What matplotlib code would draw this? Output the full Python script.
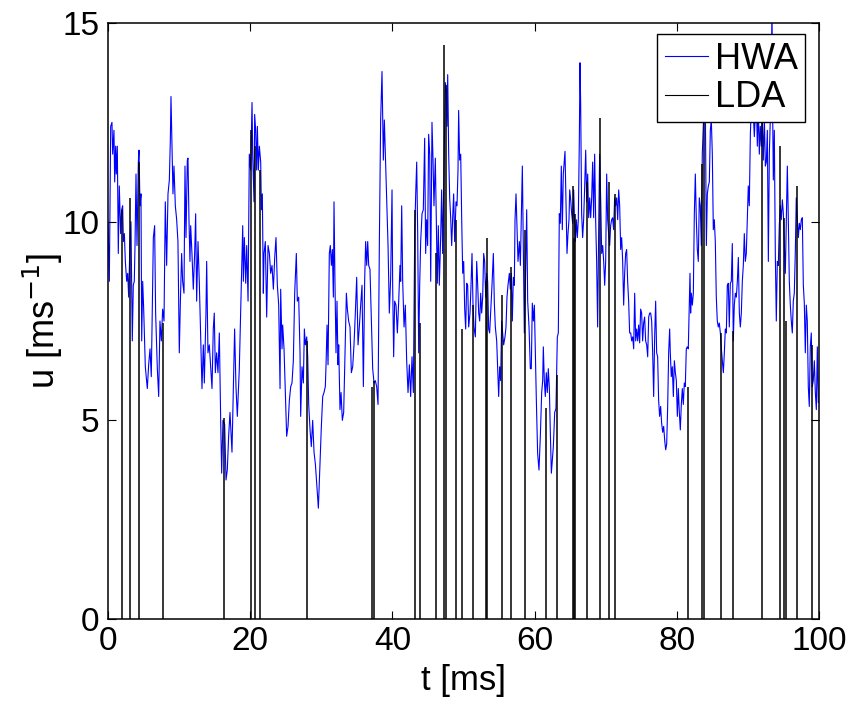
import numpy as np
import matplotlib
matplotlib.use("Agg")
import matplotlib.pyplot as plt
from matplotlib.lines import Line2D

plt.rcParams['font.family'] = ['Liberation Sans', 'DejaVu Sans']

## HWA trace (t in ms, u in m/s)
hwa_t = [
    0.0, 0.19, 0.38, 0.56, 0.66, 0.84, 0.94, 1.08, 1.17, 1.31, 1.45, 1.59, 1.78, 1.92, 2.06, 2.16,
    2.30, 2.44, 2.63, 2.77, 2.91, 3.09, 3.23, 3.42, 3.56, 3.70, 3.80, 3.94, 4.08, 4.27, 4.36, 4.50,
    4.64, 4.74, 4.88, 5.02, 5.25, 5.53, 5.72, 5.91, 6.09, 6.38, 6.56, 6.70, 6.94, 7.13, 7.31, 7.50,
    7.69, 7.88, 8.06, 8.25, 8.44, 8.63, 8.77, 8.86, 9.00, 9.14, 9.28, 9.47, 9.66, 9.84, 10.03, 10.17,
    10.36, 10.50, 10.69, 10.83, 10.97, 11.16, 11.25, 11.39, 11.53, 11.63, 11.81, 12.00, 12.19, 12.33,
    12.47, 12.66, 12.84, 13.03, 13.22, 13.41, 13.55, 13.78, 13.88, 14.06, 14.25, 14.44, 14.63, 14.81,
    14.95, 15.10, 15.28, 15.47, 15.66, 15.85, 15.99, 16.17, 16.41, 16.60, 16.78, 16.97, 17.16, 17.44,
    17.63, 17.81, 18.00, 18.19, 18.47,
    18.95, 19.04, 19.18, 19.37, 19.51, 19.70, 19.88, 20.07, 20.26, 20.35, 20.54, 20.63, 20.77, 20.91,
    21.01, 21.15, 21.29, 21.48, 21.57, 21.71, 21.85, 21.95, 22.13, 22.32, 22.51, 22.70, 22.88, 23.07,
    23.26, 23.45, 23.63, 23.82, 24.01, 24.20, 24.29, 24.48, 24.57, 24.76, 24.95, 25.13, 25.32, 25.51,
    25.70, 25.88, 26.07, 26.26, 26.49, 26.63, 26.82, 27.01, 27.10, 27.29, 27.48, 27.62, 27.76, 27.95,
    28.09, 28.23, 28.42, 28.60, 28.79, 28.98, 29.17, 29.40, 29.59, 29.82, 30.01, 30.20, 30.38, 30.57,
    30.67, 30.81, 30.95, 31.13, 31.27, 31.42, 31.56, 31.70, 31.79, 31.93, 32.07, 32.21, 32.35, 32.45,
    32.63, 32.78, 32.96, 33.15, 33.34, 33.53, 33.67, 33.85, 34.04, 34.23, 34.42, 34.60, 34.79, 34.98,
    35.17, 35.35, 35.54, 35.73, 35.92, 36.10, 36.24, 36.39, 36.53, 36.67, 36.85, 37.04, 37.23, 37.42,
    37.60, 37.79, 37.98, 38.17, 38.35, 38.54, 38.73, 38.87, 39.01, 39.20, 39.39, 39.57,
    39.76, 39.95, 40.04, 40.18, 40.32, 40.51, 40.70, 40.89, 41.07, 41.17, 41.31, 41.45, 41.64, 41.82,
    42.01, 42.20, 42.39, 42.57, 42.76, 42.95, 43.14, 43.28, 43.42, 43.56, 43.70, 43.84, 43.98, 44.17,
    44.35, 44.54, 44.68, 44.82, 44.96, 45.10, 45.25, 45.39, 45.57, 45.71, 45.85, 46.04, 46.18, 46.32,
    46.46, 46.60, 46.79, 46.93, 47.07, 47.21, 47.35, 47.45, 47.59, 47.68, 47.78, 47.92, 48.06, 48.20,
    48.34, 48.48, 48.62, 48.76, 48.95, 49.09, 49.23, 49.32, 49.46, 49.61, 49.75, 49.89, 50.03, 50.17,
    50.31, 50.45, 50.59, 50.73, 50.92, 51.06, 51.20, 51.34, 51.48, 51.67, 51.86, 52.00, 52.14, 52.28,
    52.42, 52.56, 52.70, 52.84, 52.98, 53.12, 53.26, 53.40, 53.54, 53.68, 53.82, 54.01, 54.20, 54.34,
    54.48, 54.67, 54.81, 54.95, 55.09, 55.23, 55.37, 55.51, 55.65, 55.84, 55.98, 56.12, 56.26, 56.45,
    56.59, 56.73, 56.87, 57.01, 57.15, 57.25, 57.39, 57.53, 57.67, 57.86, 58.00, 58.14, 58.28, 58.42,
    58.56, 58.75, 58.89, 59.03, 59.22,
    59.40, 59.54, 59.68, 59.83, 59.97, 60.11, 60.25, 60.43, 60.62, 60.81, 61.00, 61.14, 61.23, 61.37,
    61.51, 61.65, 61.79, 61.93, 62.08, 62.22, 62.36, 62.50, 62.64, 62.83, 63.01, 63.20, 63.34, 63.48,
    63.62, 63.76, 63.90, 64.04, 64.19, 64.28, 64.42, 64.56, 64.70, 64.84, 64.94, 65.08, 65.22, 65.36,
    65.50, 65.59, 65.73, 65.87, 66.01, 66.15, 66.30, 66.39, 66.48, 66.62, 66.76, 66.90, 67.05, 67.19,
    67.33, 67.47, 67.61, 67.75, 67.89, 68.03, 68.17, 68.31, 68.45, 68.59, 68.73, 68.87, 69.01, 69.15,
    69.30, 69.44, 69.58, 69.72, 69.86, 70.00, 70.14, 70.28, 70.42, 70.56, 70.70, 70.84, 70.98, 71.12,
    71.26, 71.40, 71.55, 71.69, 71.83, 71.97, 72.11, 72.25, 72.39, 72.53, 72.67, 72.81, 72.95, 73.09,
    73.23, 73.37, 73.52, 73.66, 73.80, 73.94, 74.08, 74.22, 74.36, 74.50, 74.64, 74.78, 74.92, 75.06,
    75.20, 75.34, 75.48, 75.62, 75.77, 75.91, 76.05, 76.19, 76.33, 76.47, 76.61, 76.75, 76.89, 77.03,
    77.17, 77.31, 77.45, 77.59, 77.73, 77.87, 78.02, 78.16, 78.30, 78.44, 78.58, 78.72, 78.86, 79.00,
    79.09, 79.23, 79.37, 79.52, 79.66, 79.80, 79.94, 80.08, 80.22, 80.36, 80.50, 80.64, 80.78, 80.92,
    81.06, 81.20, 81.34, 81.48, 81.62, 81.77, 81.86, 81.95, 82.05, 82.19, 82.33, 82.47, 82.61, 82.75,
    82.89, 83.03, 83.17, 83.31, 83.45, 83.59, 83.73, 83.88, 84.02, 84.16, 84.30, 84.44, 84.58, 84.72,
    84.86, 85.00, 85.14, 85.28, 85.42, 85.56, 85.70, 85.84, 85.98, 86.13, 86.27, 86.41, 86.55, 86.69,
    86.83, 86.97, 87.11, 87.25, 87.39, 87.53, 87.67, 87.81, 87.95, 88.09, 88.24, 88.38, 88.52, 88.66,
    88.80, 88.94, 89.08, 89.22, 89.36, 89.50, 89.64, 89.78, 89.92, 90.06, 90.20, 90.35, 90.49, 90.63,
    90.77, 90.91, 91.05, 91.19, 91.33, 91.47, 91.61, 91.75, 91.89, 92.03, 92.17, 92.32, 92.46, 92.60,
    92.74, 92.88, 93.02, 93.16, 93.30, 93.39, 93.49, 93.58, 93.72, 93.86, 94.00, 94.14, 94.28, 94.42,
    94.56, 94.70, 94.85, 94.99, 95.13, 95.27, 95.41, 95.55, 95.69, 95.83, 95.97, 96.11, 96.25, 96.39,
    96.53, 96.67, 96.81, 96.96, 97.10, 97.24, 97.38, 97.52, 97.66, 97.80, 97.94, 98.08, 98.22, 98.36,
    98.50, 98.64, 98.78, 98.92, 99.06, 99.20, 99.35, 99.49, 99.63, 99.77, 99.91,
]
hwa_u = [
    10.0, 8.5, 12.4, 12.5, 11.7, 12.3, 11.0, 11.9, 11.2, 11.9, 9.2, 10.9, 9.7, 10.3, 10.4, 9.5,
    9.7, 9.0, 8.5, 8.7, 8.1, 9.5, 10.0, 7.0, 8.4, 8.5, 9.4, 11.2, 9.4, 11.5, 11.8, 10.4,
    10.7, 7.0, 8.5, 7.8, 6.35, 5.8, 6.4, 6.8, 6.1, 9.6, 9.9, 7.7, 6.3, 5.6, 7.5, 7.0,
    7.8, 7.5, 10.5, 8.9, 10.7, 11.05, 12.06, 13.15, 11.9, 10.7, 11.4, 10.4, 10.05, 9.5, 6.7, 7.9,
    9.2, 8.5, 8.2, 11.4, 9.6, 11.55, 11.6, 10.05, 9.0, 9.9, 9.2, 8.3, 9.2, 10.2,
    8.0, 9.5, 8.5, 7.1, 5.8, 6.9, 5.94, 7.7, 9.0, 6.7, 6.9, 6.35, 5.8, 7.3,
    7.7, 6.2, 6.7, 6.2, 7.2, 5.0, 3.67, 5.0, 4.9, 3.5, 3.75, 4.6, 5.2, 4.2,
    5.85, 7.3, 5.85, 5.1, 6.3,
    9.9, 8.5, 9.6, 8.45, 9.4, 8.0, 11.7, 11.3, 13.0, 11.7, 10.5, 12.7, 12.3, 11.3,
    12.4, 11.3, 11.9, 11.5, 10.3, 10.7, 8.2, 9.2, 9.5, 7.6, 9.4, 9.2, 8.7, 8.9,
    8.3, 9.1, 9.6, 8.4, 7.9, 5.8, 8.3, 6.8, 7.4, 6.8, 5.7, 4.6, 4.85, 5.5,
    5.85, 5.94, 6.5, 8.2, 9.2, 8.0, 8.1, 6.7, 5.1, 6.35, 5.94, 7.3, 6.9, 7.1,
    6.6, 5.4, 4.76, 4.34, 5.0, 4.2, 3.9, 3.3, 2.79, 3.9, 4.85, 5.6, 5.7, 5.85,
    6.4, 7.4, 6.4, 9.2, 9.4, 8.9, 9.3, 8.1, 10.5, 8.4, 6.7, 8.0, 6.4, 6.9,
    5.27, 5.7, 5.0, 5.2, 6.7, 8.2, 7.8, 7.5, 7.35, 6.2, 6.35, 6.9, 7.7, 8.6,
    6.9, 7.35, 7.9, 8.4, 5.85, 8.5, 9.5, 8.9, 9.5, 8.9, 8.8, 7.5, 6.3, 5.94,
    6.0, 5.85, 5.4, 9.5, 12.56, 13.78, 11.55, 12.56, 11.7, 10.55, 9.4, 7.7,
    8.6, 10.8, 8.4, 6.6, 8.0, 7.9, 7.2, 8.0, 8.9, 8.5, 10.4, 8.5, 7.35, 7.9,
    6.5, 5.7, 6.4, 5.6, 6.6, 5.7, 9.7, 10.7, 11.5, 9.7, 6.7, 8.4, 9.5, 10.2,
    10.3, 12.1, 9.2, 10.05, 9.4, 12.2, 11.7, 8.5, 12.5, 11.6, 10.4, 11.6, 9.96, 8.45,
    9.9, 8.4, 9.6, 10.8, 9.2, 10.8, 12.56, 13.5, 13.3, 12.4, 13.7, 11.7, 10.6, 10.1,
    9.4, 10.1, 10.7, 9.5, 10.5, 10.4, 11.3, 12.8, 11.55, 11.7, 10.05, 8.7, 9.0, 7.8,
    7.3, 8.45, 8.4, 7.35, 7.7, 8.4, 9.2, 7.9, 7.35, 7.1, 9.0, 8.4, 7.7, 7.5,
    8.2, 7.7, 8.1, 9.2, 9.0, 8.1, 8.7, 8.5, 7.3, 7.2, 7.7, 8.4, 9.2, 7.95,
    7.35, 7.0, 6.3, 5.6, 6.35, 6.0, 7.5, 7.2, 6.9, 7.1, 7.35, 8.1, 8.4, 8.7,
    8.3, 8.7, 7.5, 8.6, 8.4, 10.05, 10.7, 9.8, 9.0, 9.5, 8.9, 10.2, 11.4, 9.4,
    7.2, 8.8, 10.3, 8.0, 7.35,
    6.3, 6.3, 7.95, 7.5, 7.9, 6.7, 5.5, 4.17, 3.75, 4.6, 5.7, 6.0, 6.85, 6.0,
    5.6, 6.2, 5.7, 6.3, 5.8, 4.67, 3.67, 4.0, 4.34, 5.2, 5.3, 7.1, 7.2, 10.2,
    9.96, 11.4, 9.8, 11.2, 11.55, 11.77, 10.5, 9.2, 9.7, 10.05, 10.8, 10.55, 10.2, 9.96,
    10.8, 10.2, 9.5, 10.05, 9.6, 10.05, 12.14, 14.0, 13.0, 10.2, 9.6, 10.05, 10.9, 11.8,
    10.5, 11.2, 10.1, 10.6, 10.1, 10.6, 11.5, 10.1, 11.7, 10.05, 9.0, 7.35, 9.7, 11.7,
    10.55, 9.2, 9.4, 9.0, 8.4, 9.0, 11.2, 10.05, 9.7, 9.4, 9.9, 10.05, 10.1, 9.8,
    10.6, 10.4, 10.6, 10.05, 10.8, 10.4, 9.3, 9.6, 9.0, 7.9, 8.7, 9.2, 9.3, 8.5,
    8.0, 7.2, 7.2, 7.0, 7.1, 6.8, 8.2, 7.0, 7.3, 7.0, 7.4, 6.95, 7.8, 7.7,
    7.0, 7.45, 7.6, 7.0, 6.9, 6.6, 7.6, 7.7, 7.7, 7.5, 6.7, 5.6, 7.1, 8.0,
    6.7, 6.6, 5.5, 5.1, 5.35, 4.93, 4.7, 4.85, 4.5, 4.26, 4.4, 5.35, 6.7, 7.3,
    6.7, 6.1, 6.35, 5.6, 6.5, 6.2, 6.0, 5.1, 5.8, 5.2, 4.76, 5.4, 5.8, 5.4,
    5.94, 5.85, 6.8, 6.85, 6.8, 8.0, 8.7, 7.7, 8.2, 7.9, 8.2, 10.2, 11.2, 10.05,
    9.3, 9.0, 10.6, 10.4, 9.4, 11.7, 12.4, 13.15, 12.9, 9.4, 10.7, 10.9, 11.0, 12.3,
    12.56, 11.7, 9.8, 10.05, 9.5, 8.1, 7.5, 7.35, 7.45, 7.2, 6.8, 6.5, 6.2, 6.7,
    7.3, 7.2, 8.4, 8.45, 7.35, 8.45, 8.5, 9.45, 7.0, 7.9, 8.2, 8.1, 8.5, 9.1,
    7.7, 7.35, 7.7, 8.5, 8.9, 9.7, 9.0, 9.2, 10.05, 10.9, 10.4, 12.2, 12.9, 12.6,
    12.7, 12.14, 12.7, 13.15, 11.9, 12.9, 11.7, 12.4, 11.9, 12.6, 11.55, 12.6, 11.4, 11.5,
    12.3, 9.0, 11.7, 12.56, 13.5, 15.5, 12.7, 11.05, 12.3, 9.2, 7.5, 9.0, 8.9, 9.9,
    10.4, 10.05, 10.55, 10.2, 9.4, 8.7, 10.05, 11.4, 10.05, 8.5, 7.9, 7.5, 7.2, 8.0,
    8.2, 9.2, 10.6, 10.05, 9.6, 9.96, 9.8, 10.05, 10.1, 8.4, 7.95, 6.7, 7.9, 7.5,
    5.85, 5.35, 6.85, 7.2, 5.85, 6.0, 6.5, 5.7, 5.27, 6.85, 5.45,
]

## LDA samples (arrival time, velocity)
lda_t = [1.97, 3.14, 4.36, 7.78, 16.32, 20.05, 20.68, 21.38, 27.95, 37.18, 37.45,
         43.14, 43.93, 46.09, 47.28, 47.55, 48.92, 49.84, 51.30, 53.20, 53.36, 55.42,
         56.62, 58.70, 61.56, 63.11, 65.35, 65.50, 65.65, 67.40, 69.18, 70.42, 71.30,
         81.53, 83.54, 83.80, 86.17, 87.86, 91.93, 94.52, 95.15, 95.36, 96.97, 99.00]
lda_u = [10.3, 10.6, 11.5, 7.45, 5.05, 12.3, 11.9, 11.3, 7.0, 5.85, 6.0,
         10.3, 7.45, 9.2, 14.45, 13.45, 10.05, 7.3, 7.9, 8.5, 9.6, 8.15,
         8.85, 9.8, 5.3, 6.14, 10.9, 9.6, 10.2, 11.0, 12.6, 11.0, 10.7,
         5.85, 11.45, 13.0, 7.2, 7.25, 13.5, 11.9, 10.1, 7.5, 10.9, 6.9]

fig = plt.figure(figsize=(8.53, 7.02), dpi=100)
ax = fig.add_axes([0.1266, 0.1182, 0.8335, 0.849])

ax.plot(hwa_t, hwa_u, color=(0, 0, 1), lw=0.8)
ax.vlines(lda_t, 0, lda_u, colors='k', lw=1.1)

ax.set_xlim(0, 100)
ax.set_ylim(0, 15)
ax.set_xticks([0, 20, 40, 60, 80, 100])
ax.set_yticks([0, 5, 10, 15])
ax.tick_params(direction='in', length=6, width=0.8, top=True, right=True,
               labelsize=24, pad=6)
ax.tick_params(axis='x', pad=5)
for s in ax.spines.values():
    s.set_linewidth(1.1)

ax.set_xlabel('t [ms]', fontsize=25, labelpad=5)
ax.set_ylabel('u [ms$^{-1}$]', fontsize=26, labelpad=-2)

handles = [Line2D([], [], color=(0, 0, 1), lw=0.8),
           Line2D([], [], color='k', lw=0.8)]
leg = ax.legend(handles, ['HWA', 'LDA'], loc='upper right',
                bbox_to_anchor=(0.981, 0.981), borderaxespad=0,
                fontsize=26, fancybox=False, framealpha=1,
                edgecolor='k', handlelength=1.2, handletextpad=0.2,
                labelspacing=0.1, borderpad=0.2)
leg.get_frame().set_linewidth(1.0)

plt.savefig("out.png", dpi=100)
